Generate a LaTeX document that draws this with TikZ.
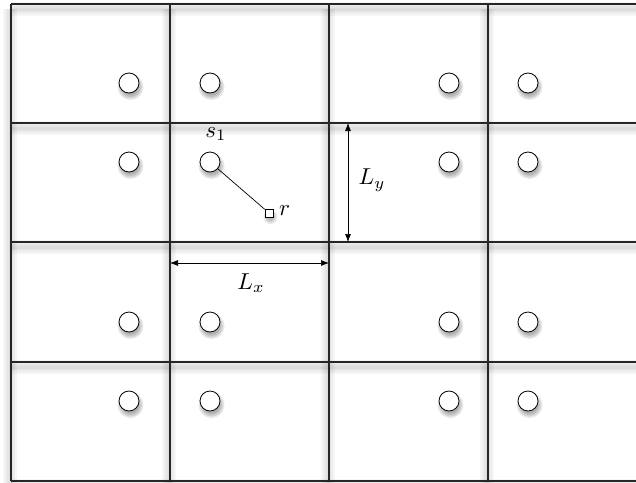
\documentclass[tikz,border=0pt]{standalone}
\usetikzlibrary{arrows.meta}
\newcommand{\bigmath}[1]{\scalebox{2.3}{$#1$}}
\begin{document}
\begin{tikzpicture}[x=1pt,y=-1pt,
  gridline/.style={line width=1.1pt,black!85},
  shadowline/.style={line width=#1,black,opacity=0.035},
  site/.style={circle,draw,line width=0.8pt,fill=white,minimum size=20pt,inner sep=0pt},
  recv/.style={rectangle,draw,line width=0.7pt,fill=white,minimum size=8pt,inner sep=0pt},
  lbl/.style={inner sep=0pt},
  dim/.style={line width=0.7pt,{Latex[length=8pt,width=6pt]}-{Latex[length=8pt,width=6pt]}}]
\useasboundingbox (0,0) rectangle (636,482);
\clip (0,0) rectangle (636,482);
% grid shadows
\foreach \w in {14pt,10pt,6pt,3pt}{
  \foreach \yy in {4,123,242,362,481}
    \draw[shadowline=\w] (11,\yy+5) -- (700,\yy+5);
  \foreach \xx in {11,170,329,488}
    \draw[shadowline=\w] (\xx-1,4+5) -- (\xx-1,481+5);
}
% grid lines
\foreach \yy in {4,123,242,362,481}
  \draw[gridline] (11,\yy) -- (700,\yy);
\foreach \xx in {11,170,329,488}
  \draw[gridline] (\xx,4) -- (\xx,481);
% circle shadows
\foreach \cx/\cy in {129/83,210/83,449/83,528/83,129/162,210/162,449/162,528/162,129/322,210/322,449/322,528/322,129/401,210/401,449/401,528/401}{
  \foreach \r in {13,11.5,10,8.5}
    \fill[black,opacity=0.09] (\cx+1.5,\cy+4) circle (\r);
}
% r shadow
\foreach \r in {7,5.5,4}
  \fill[black,opacity=0.09] (270.5,217) circle (\r);
% sites
\node[site] (a1) at (129,83) {};
\node[site] (a2) at (210,83) {};
\node[site] (a3) at (449,83) {};
\node[site] (a4) at (528,83) {};
\node[site] (b1) at (129,162) {};
\node[site] (s1) at (210,162) {};
\node[site] (b3) at (449,162) {};
\node[site] (b4) at (528,162) {};
\node[site] (c1) at (129,322) {};
\node[site] (c2) at (210,322) {};
\node[site] (c3) at (449,322) {};
\node[site] (c4) at (528,322) {};
\node[site] (d1) at (129,401) {};
\node[site] (d2) at (210,401) {};
\node[site] (d3) at (449,401) {};
\node[site] (d4) at (528,401) {};
\node[recv] (r) at (269,213) {};
\draw[line width=0.7pt] (s1) -- (r);
\node[lbl] (s1lbl) at (216,134) {\bigmath{s_1}};
\node[lbl,anchor=west] (rlbl) at (279,211) {\bigmath{r}};
% dimensions
\coordinate (ly1) at (348,123);
\coordinate (ly2) at (348,242);
\draw[dim] (ly1) -- (ly2);
\node[lbl] (lylbl) at (372,180) {\bigmath{L_y}};
\coordinate (lx1) at (170,263);
\coordinate (lx2) at (329,263);
\draw[dim] (lx1) -- (lx2);
\node[lbl] (lxlbl) at (251,283) {\bigmath{L_x}};
\end{tikzpicture}
\end{document}
